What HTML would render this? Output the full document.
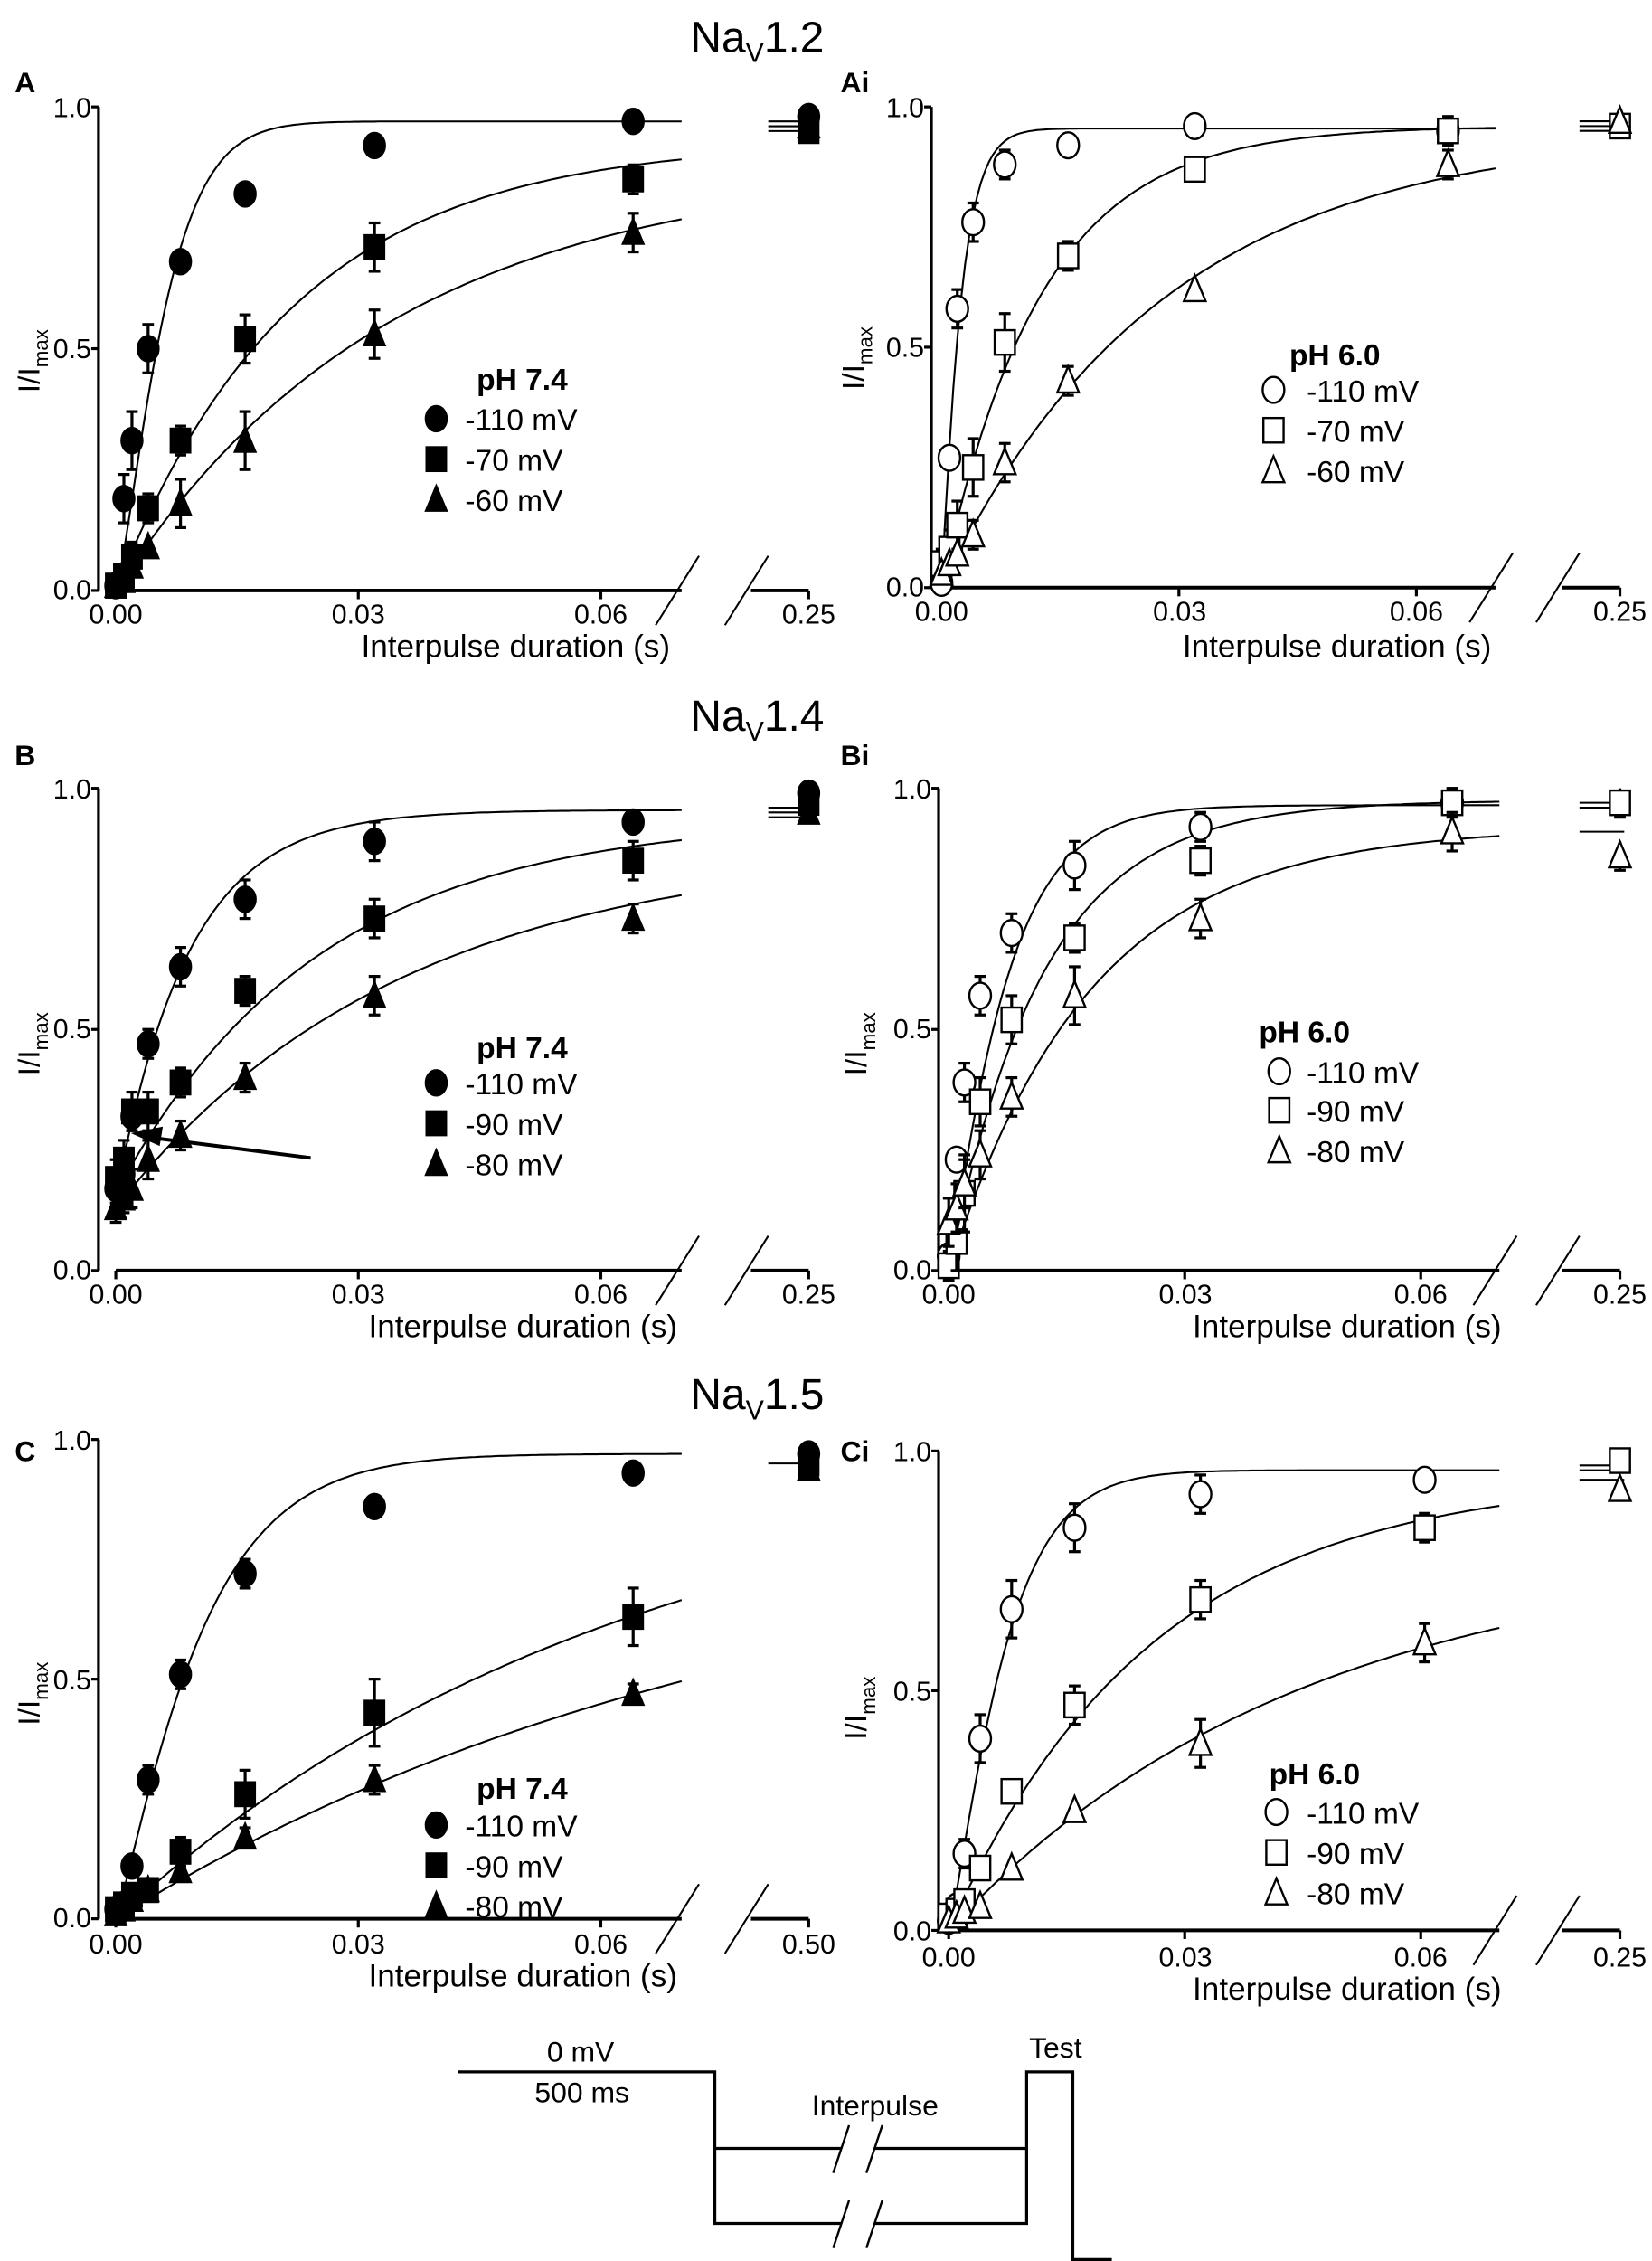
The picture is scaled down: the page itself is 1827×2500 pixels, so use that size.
<!DOCTYPE html>
<html><head><meta charset="utf-8"><style>
html,body{margin:0;padding:0;background:#fff}
svg{display:block}
text{font-family:"Liberation Sans Narrow","Liberation Sans",sans-serif;fill:#000}
.t{font-size:19px}
.lg{font-size:21px}
.b{font-weight:bold}
</style></head><body>
<svg id="s" width="1827" height="2500" viewBox="0 0 1144 1566" xmlns="http://www.w3.org/2000/svg">
<g id="g" stroke="#000" fill="none"></g>
<!-- titles -->
<text x="478" y="36" style="font-size:30px">Na<tspan dy="7" style="font-size:19px">V</tspan><tspan dy="-7">1.2</tspan></text>
<text x="478" y="506" style="font-size:30px">Na<tspan dy="7" style="font-size:19px">V</tspan><tspan dy="-7">1.4</tspan></text>
<text x="478" y="976" style="font-size:30px">Na<tspan dy="7" style="font-size:19px">V</tspan><tspan dy="-7">1.5</tspan></text>
<text x="10" y="64" class="b" style="font-size:20px">A</text>
<text x="582" y="64" class="b" style="font-size:20px">Ai</text>
<text x="10" y="530" class="b" style="font-size:20px">B</text>
<text x="582" y="530" class="b" style="font-size:20px">Bi</text>
<text x="10" y="1012" class="b" style="font-size:20px">C</text>
<text x="582" y="1012" class="b" style="font-size:20px">Ci</text>
<!-- y labels -->
<text transform="translate(27,272) rotate(-90)" style="font-size:21px">I/I<tspan dy="6" style="font-size:14px">max</tspan></text>
<text transform="translate(598,270) rotate(-90)" style="font-size:21px">I/I<tspan dy="6" style="font-size:14px">max</tspan></text>
<text transform="translate(27,745) rotate(-90)" style="font-size:21px">I/I<tspan dy="6" style="font-size:14px">max</tspan></text>
<text transform="translate(600,745) rotate(-90)" style="font-size:21px">I/I<tspan dy="6" style="font-size:14px">max</tspan></text>
<text transform="translate(27,1195) rotate(-90)" style="font-size:21px">I/I<tspan dy="6" style="font-size:14px">max</tspan></text>
<text transform="translate(600,1205) rotate(-90)" style="font-size:21px">I/I<tspan dy="6" style="font-size:14px">max</tspan></text>
<!-- y tick labels -->
<g text-anchor="end" class="t">
<text x="63" y="81">1.0</text><text x="63" y="248">0.5</text><text x="63" y="415">0.0</text>
<text x="640" y="81">1.0</text><text x="640" y="247">0.5</text><text x="640" y="413">0.0</text>
<text x="63" y="553">1.0</text><text x="63" y="719">0.5</text><text x="63" y="886">0.0</text>
<text x="645" y="553">1.0</text><text x="645" y="719">0.5</text><text x="645" y="886">0.0</text>
<text x="63" y="1004">1.0</text><text x="63" y="1170">0.5</text><text x="63" y="1335">0.0</text>
<text x="645" y="1012">1.0</text><text x="645" y="1178">0.5</text><text x="645" y="1344">0.0</text>
</g>
<!-- x tick labels -->
<g text-anchor="middle" class="t">
<text x="80" y="432">0.00</text><text x="248" y="432">0.03</text><text x="416" y="432">0.06</text><text x="560" y="432">0.25</text>
<text x="652" y="430">0.00</text><text x="817" y="430">0.03</text><text x="981" y="430">0.06</text><text x="1122" y="430">0.25</text>
<text x="80" y="903">0.00</text><text x="248" y="903">0.03</text><text x="416" y="903">0.06</text><text x="560" y="903">0.25</text>
<text x="657" y="903">0.00</text><text x="821" y="903">0.03</text><text x="984" y="903">0.06</text><text x="1122" y="903">0.25</text>
<text x="80" y="1353">0.00</text><text x="248" y="1353">0.03</text><text x="416" y="1353">0.06</text><text x="560" y="1353">0.50</text>
<text x="657" y="1362">0.00</text><text x="821" y="1362">0.03</text><text x="984" y="1362">0.06</text><text x="1122" y="1362">0.25</text>
</g>
<g text-anchor="middle" style="font-size:22px">
<text x="357" y="455">Interpulse duration (s)</text>
<text x="926" y="455">Interpulse duration (s)</text>
<text x="362" y="926">Interpulse duration (s)</text>
<text x="933" y="926">Interpulse duration (s)</text>
<text x="362" y="1376">Interpulse duration (s)</text>
<text x="933" y="1385">Interpulse duration (s)</text>
</g>
<!-- legends -->
<g class="lg">
<text x="330" y="270" class="b">pH 7.4</text><text x="322" y="298">-110 mV</text><text x="322" y="326">-70 mV</text><text x="322" y="354">-60 mV</text>
<text x="893" y="253" class="b">pH 6.0</text><text x="905" y="278">-110 mV</text><text x="905" y="306">-70 mV</text><text x="905" y="334">-60 mV</text>
<text x="330" y="733" class="b">pH 7.4</text><text x="322" y="758">-110 mV</text><text x="322" y="786">-90 mV</text><text x="322" y="814">-80 mV</text>
<text x="872" y="722" class="b">pH 6.0</text><text x="905" y="750">-110 mV</text><text x="905" y="777">-90 mV</text><text x="905" y="805">-80 mV</text>
<text x="330" y="1246" class="b">pH 7.4</text><text x="322" y="1272">-110 mV</text><text x="322" y="1300">-90 mV</text><text x="322" y="1328">-80 mV</text>
<text x="879" y="1236" class="b">pH 6.0</text><text x="905" y="1263">-110 mV</text><text x="905" y="1291">-90 mV</text><text x="905" y="1319">-80 mV</text>
</g>
<!-- protocol -->
<g style="font-size:20px" text-anchor="middle">
<text x="402" y="1428">0 mV</text><text x="403" y="1456">500 ms</text><text x="606" y="1465">Interpulse</text><text x="731" y="1425">Test</text>
</g>
<g stroke="#000" fill="none" stroke-width="2">
<polyline points="317,1435 495,1435 495,1540 711,1540 711,1435 743,1435 743,1565 770,1565"/>
<line x1="495" y1="1488" x2="711" y2="1488"/>
<line x1="583" y1="1488" x2="606" y2="1488" stroke="#fff" stroke-width="3"/>
<line x1="583" y1="1540" x2="606" y2="1540" stroke="#fff" stroke-width="3"/>
<line x1="577" y1="1505" x2="588" y2="1472" stroke-width="1.5"/><line x1="600" y1="1505" x2="611" y2="1472" stroke-width="1.5"/>
<line x1="577" y1="1557" x2="588" y2="1524" stroke-width="1.5"/><line x1="600" y1="1557" x2="611" y2="1524" stroke-width="1.5"/>
</g>
</svg>
<script>
var g=document.getElementById('g'),NS='http://www.w3.org/2000/svg';
function el(t,a){var e=document.createElementNS(NS,t);for(var k in a)e.setAttribute(k,a[k]);g.appendChild(e);return e;}
function mk(type,x,y,filled,s){
 s=s||1;var f=filled?'#000':'#fff',sw=filled?1:1.5;
 if(type=='c'){el('ellipse',{cx:x,cy:y,rx:7.5*s,ry:9*s,fill:f,'stroke-width':sw});}
 else if(type=='s'){el('rect',{x:x-7*s,y:y-8.5*s,width:14*s,height:17*s,fill:f,'stroke-width':sw});}
 else {el('polygon',{points:(x)+','+(y-10*s)+' '+(x+7.5*s)+','+(y+8*s)+' '+(x-7.5*s)+','+(y+8*s),fill:f,'stroke-width':sw});}
}
var T=[0,.001,.002,.004,.008,.016,.032,.064];
function panel(P){
 var Y=function(v){return P.y0-(P.y0-P.y1)*v;},X=function(t){return P.x0+P.sx*t;};
 el('line',{x1:P.ax,y1:P.y1,x2:P.ax,y2:P.y0,'stroke-width':2});
 [0,.5,1].forEach(function(v){el('line',{x1:P.ax-5,y1:Y(v),x2:P.ax,y2:Y(v),'stroke-width':2});});
 var xe=X(.07);
 el('line',{x1:P.x0,y1:P.y0,x2:xe,y2:P.y0,'stroke-width':2.5});
 [0,.03,.06].forEach(function(t){el('line',{x1:X(t),y1:P.y0,x2:X(t),y2:P.y0+6,'stroke-width':2});});
 el('line',{x1:xe-18,y1:P.y0+24,x2:xe+12,y2:P.y0-24,'stroke-width':1.3});
 el('line',{x1:P.rx-58,y1:P.y0+24,x2:P.rx-28,y2:P.y0-24,'stroke-width':1.3});
 el('line',{x1:P.rx-40,y1:P.y0,x2:P.rx,y2:P.y0,'stroke-width':2.5});
 el('line',{x1:P.rx,y1:P.y0,x2:P.rx,y2:P.y0+6,'stroke-width':2});
 P.series.forEach(function(S){
  var d='';for(var i=0;i<=140;i++){var t=.07*i/140;var v=S.b+S.A*(1-Math.exp(-Math.pow(t/S.tau,S.p||1)));d+=(i?'L':'M')+X(t).toFixed(1)+','+Y(Math.min(v,1.2)).toFixed(1);}
  el('path',{d:d,'stroke-width':1.3});
 });
 P.rl.forEach(function(v){el('line',{x1:P.rx-28,y1:Y(v),x2:P.rx+3,y2:Y(v),'stroke-width':1.3});});
 P.series.forEach(function(S){
  S.v.forEach(function(v,i){var x=X(S.t?S.t[i]:T[i]),y=Y(v),e=(S.e&&S.e[i])||0;
   if(e){var ey=(P.y0-P.y1)*e;el('line',{x1:x,y1:y-ey,x2:x,y2:y+ey,'stroke-width':2});el('line',{x1:x-4,y1:y-ey,x2:x+4,y2:y-ey,'stroke-width':2});el('line',{x1:x-4,y1:y+ey,x2:x+4,y2:y+ey,'stroke-width':2});}
   mk(S.m,x,y,P.fill);});
  if(S.r!=null){var x=P.rx,y=Y(S.r),e=S.re||0;if(e){var ey=(P.y0-P.y1)*e;el('line',{x1:x,y1:y-ey,x2:x,y2:y+ey,'stroke-width':2});el('line',{x1:x-4,y1:y+ey,x2:x+4,y2:y+ey,'stroke-width':2});}mk(S.m,x,y,P.fill);}
 });
 P.leg.forEach(function(L,i){mk(P.series[i].m,L[0],L[1],P.fill);});
}
panel({x0:80,sx:5600,ax:68,y0:409,y1:74,rx:560,fill:1,rl:[.95,.96,.97],
 series:[
 {m:'c',A:.97,tau:.0065,p:1.3,b:0,v:[.01,.19,.31,.50,.68,.82,.92,.97],e:[0,.05,.06,.05,0,0,0,0],r:.98},
 {m:'s',A:.93,tau:.022,b:0,v:[.01,.03,.07,.17,.31,.52,.71,.85],e:[0,0,.03,.03,.03,.05,.05,.03],r:.95},
 {m:'t',A:.88,tau:.034,b:0,v:[.01,.02,.05,.09,.18,.31,.53,.74],e:[0,0,0,0,.05,.06,.05,.04],r:.96}],
 leg:[[302,290],[302,318],[302,346]]});
panel({x0:652,sx:5483,ax:645,y0:407,y1:74,rx:1122,fill:0,rl:[.95,.96,.97],
 series:[
 {m:'c',A:.955,tau:.0025,p:1.1,b:0,v:[.01,.27,.58,.76,.88,.92,.96,.95],e:[0,0,.04,.04,.03,0,0,0]},
 {m:'s',A:.96,tau:.0125,b:0,v:[.05,.08,.13,.25,.51,.69,.87,.95],e:[.03,.04,.05,.06,.06,.03,.02,.03],r:.96},
 {m:'t',A:.95,tau:.028,b:0,v:[.03,.05,.07,.11,.26,.43,.62,.88],e:[0,0,0,.03,.04,.03,0,.03],r:.97}],
 leg:[[882,270],[882,298],[882,326]]});
panel({x0:80,sx:5600,ax:68,y0:880,y1:546,rx:560,fill:1,rl:[.94,.95,.96],
 series:[
 {m:'c',A:.805,tau:.009,b:.15,v:[.17,.20,.32,.47,.63,.77,.89,.93],e:[.03,.03,.03,.03,.04,.04,.04,0],r:.99},
 {m:'s',A:.78,tau:.025,b:.16,v:[.19,.23,.33,.33,.39,.58,.73,.85],e:[.04,.04,.04,.04,.03,.03,.04,.04],r:.97},
 {m:'t',A:.75,tau:.035,b:.13,v:[.13,.15,.17,.23,.28,.40,.57,.73],e:[.03,.03,.04,.04,.03,.03,.04,.03],r:.95}],
 leg:[[302,750],[302,778],[302,806]]});
el('line',{x1:105,y1:788,x2:215,y2:802,'stroke-width':2.5});
el('polygon',{points:'92,785 112,781 110,793',fill:'#000'});
panel({x0:657,sx:5450,ax:650,y0:880,y1:546,rx:1122,fill:0,rl:[.97,.96,.91],
 series:[
 {m:'c',A:.965,tau:.0075,p:1.1,b:0,v:[.03,.23,.39,.57,.70,.84,.92,.97],e:[0,0,.04,.04,.04,.05,.03,0]},
 {m:'s',A:.975,tau:.012,b:0,v:[.01,.06,.16,.35,.52,.69,.85,.97],e:[.03,.06,.08,.05,.05,.03,.03,.03],r:.97,re:.03},
 {m:'t',A:.92,tau:.018,b:0,v:[.10,.13,.18,.24,.36,.57,.73,.91],e:[.05,.05,.05,.05,.04,.06,.04,.04],r:.86,re:.03}],
 leg:[[886,742],[886,769],[886,797]]});
panel({x0:80,sx:5600,ax:68,y0:1329,y1:997,rx:560,fill:1,rl:[.95],
 series:[
 {m:'c',A:.97,tau:.011,p:1.15,b:0,v:[.02,.03,.11,.29,.51,.72,.86,.93],e:[0,0,0,.03,.03,.03,0,0],r:.97},
 {m:'s',A:1.0,tau:.064,b:0,v:[.02,.03,.05,.06,.14,.26,.43,.63],e:[0,0,0,0,.03,.05,.07,.06],r:.95},
 {m:'t',A:.85,tau:.08,b:0,v:[.01,.02,.04,.06,.10,.17,.29,.47],e:[0,0,0,0,0,.02,.03,.02],r:.94}],
 leg:[[302,1264],[302,1292],[302,1320]]});
panel({x0:657,sx:5450,ax:650,y0:1337,y1:1005,rx:1122,fill:0,rl:[.97,.96,.94],
 series:[
 {m:'c',A:.96,tau:.0075,p:1.2,b:0,v:[.02,.05,.16,.40,.67,.84,.91,.94],t:[0,.001,.002,.004,.008,.016,.032,.0605],e:[0,0,.03,.05,.06,.05,.04,.02]},
 {m:'s',A:.95,tau:.026,b:0,v:[.03,.04,.06,.13,.29,.47,.69,.84],t:[0,.001,.002,.004,.008,.016,.032,.0605],e:[0,0,0,0,.02,.04,.04,.03],r:.98},
 {m:'t',A:.8,tau:.045,b:0,v:[.02,.03,.04,.05,.13,.25,.39,.60],t:[0,.001,.002,.004,.008,.016,.032,.0605],e:[0,0,0,0,0,0,.05,.04],r:.92}],
 leg:[[884,1255],[884,1283],[884,1311]]});
</script>
</body></html>
